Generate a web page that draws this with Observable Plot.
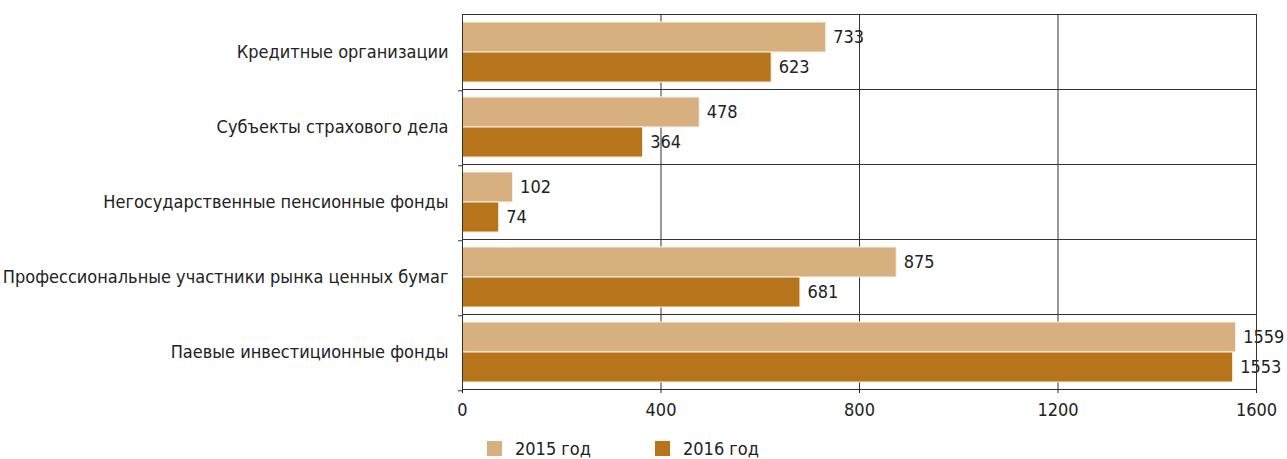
<!DOCTYPE html>
<html>
<head>
<meta charset="utf-8">
<script src="https://cdn.jsdelivr.net/npm/d3@7"></script>
<script src="https://cdn.jsdelivr.net/npm/@observablehq/plot@0.6"></script>
<style>
  body { margin: 0; background: #fff; }
  #chart { position: relative; width: 1287px; height: 459px; font-family: "DejaVu Sans", sans-serif; font-stretch: condensed; color: #222; }
  .legend { position: absolute; top: 436px; left: 0; width: 1287px; height: 23px; font-size: 18px; }
  .legend .item { position: absolute; top: 2px; display: flex; align-items: center; }
  .legend .sw { width: 15px; height: 15px; margin-right: 13px; }
</style>
</head>
<body>
<div id="chart"></div>
<script>
// Number of participants by type of financial organisation
const categories = [
  "Кредитные организации",
  "Субъекты страхового дела",
  "Негосударственные пенсионные фонды",
  "Профессиональные участники рынка ценных бумаг",
  "Паевые инвестиционные фонды"
];
const years = ["2015 год", "2016 год"];
const values2015 = [733, 478, 102, 875, 1559];
const values2016 = [623, 364, 74, 681, 1553];
const xTicks = [0, 400, 800, 1200, 1600];
const colors = ["#d8af7f", "#b6741b"];

const rows = categories.flatMap((c, i) => [
  {category: c, year: years[0], value: values2015[i]},
  {category: c, year: years[1], value: values2016[i]}
]);

const W = 1287, H = 436, mTop = 12, mBottom = 46;
const yPadOuter = 0.22;
// offset from the centre of the first bar to the bottom of its facet row
const facetH = (H - mTop - mBottom) / categories.length;
const step = facetH / (years.length + 2 * yPadOuter);
const firstBandCentre = step * yPadOuter + step / 2;

const plot = Plot.plot({
  width: W,
  height: H,
  marginLeft: 462,
  marginRight: 31,
  marginTop: mTop,
  marginBottom: mBottom,
  style: {fontFamily: "DejaVu Sans, sans-serif", fontStretch: "condensed", fontSize: "18px", color: "#222", background: "#fff"},
  x: {domain: [0, 1600], ticks: xTicks, label: null},
  y: {domain: years, axis: null, paddingInner: 0, paddingOuter: yPadOuter},
  fy: {domain: categories, padding: 0, label: null, axis: null},
  color: {domain: years, range: colors},
  marks: [
    Plot.gridX(xTicks, {stroke: "#333", strokeOpacity: 1, strokeWidth: 1}),
    Plot.barX(rows, {
      fy: "category", y: "year", x: "value",
      fill: "year", stroke: "#fbf3e8", strokeWidth: 1
    }),
    Plot.text(rows, {
      fy: "category", y: "year", x: "value", text: d => String(d.value),
      dx: 7, textAnchor: "start", fill: "#222", fontSize: 18
    }),
    Plot.frame({stroke: "#333", strokeWidth: 1}),
    // short ticks on the left edge at the bottom of each row
    Plot.ruleY(categories.map(c => ({category: c})), {
      fy: "category", y: () => years[0], x1: -8, x2: 0, dy: facetH - firstBandCentre, stroke: "#333"
    }),
    Plot.axisFy({anchor: "left", tickSize: 0, tickPadding: 14, fontSize: 18, label: null}),
    Plot.axisX({ticks: xTicks, tickSize: 4, tickPadding: 10, fontSize: 18, label: null, tickFormat: d => String(d)})
  ]
});

const chart = document.getElementById("chart");
chart.appendChild(plot);

// legend below the chart
const legend = document.createElement("div");
legend.className = "legend";
const lefts = [487, 655];
years.forEach((y, i) => {
  const item = document.createElement("div");
  item.className = "item";
  item.style.left = lefts[i] + "px";
  const sw = document.createElement("span");
  sw.className = "sw";
  sw.style.background = colors[i];
  const tx = document.createElement("span");
  tx.textContent = y;
  item.appendChild(sw);
  item.appendChild(tx);
  legend.appendChild(item);
});
chart.appendChild(legend);
</script>
</body>
</html>
